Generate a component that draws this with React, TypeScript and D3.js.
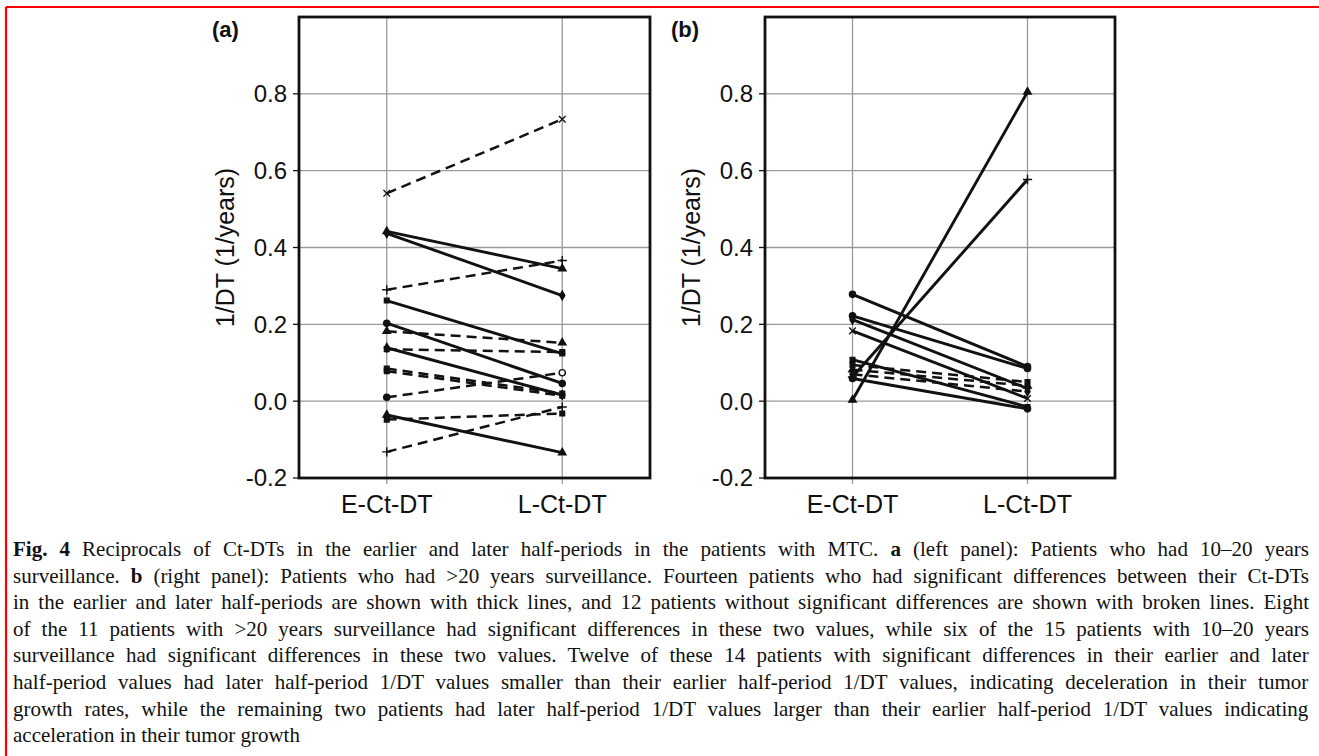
import React, { useMemo } from "react";
import * as d3 from "d3";

const W = 1319;
const H = 756;

const CATEGORIES = ["E-Ct-DT", "L-Ct-DT"];
const Y_TICKS = [-0.2, 0.0, 0.2, 0.4, 0.6, 0.8];
const Y_DOMAIN: [number, number] = [-0.2, 1.0];

// (a) patients with 10–20 years surveillance
const A_EARLY = [0.541, 0.442, 0.437, 0.29, 0.262, 0.203, 0.182, 0.139, 0.135, 0.085, 0.078, 0.01, -0.036, -0.048, -0.132];
const A_LATE = [0.734, 0.345, 0.275, 0.366, 0.124, 0.046, 0.152, 0.016, 0.128, 0.02, 0.014, 0.074, -0.134, -0.032, -0.015];
const A_SOLID = [false, true, true, false, true, true, false, true, false, false, false, false, true, false, false];
const A_MARKER = ["cross", "triangle", "diamond", "plus", "square", "circle", "triangle", "diamond", "square", "square", "square", "ring", "triangle", "square", "plus"];

// (b) patients with >20 years surveillance
const B_EARLY = [0.003, 0.063, 0.278, 0.222, 0.212, 0.183, 0.108, 0.059, 0.094, 0.082, 0.07];
const B_LATE = [0.805, 0.577, 0.09, 0.085, 0.033, 0.007, -0.015, -0.02, 0.05, 0.04, 0.025];
const B_SOLID = [true, true, true, true, true, true, true, true, false, false, false];
const B_MARKER = ["triangle", "plus", "circle", "circle", "diamond", "cross", "square", "circle", "square", "triangle", "diamond"];

type Run = { t: string; b?: boolean; gap?: number };
const CAPTION: Run[][] = [
  [{ t: "Fig. 4", b: true }, { t: "Reciprocals of Ct-DTs in the earlier and later half-periods in the patients with MTC. ", gap: 12 }, { t: "a", b: true }, { t: " (left panel): Patients who had 10–20 years" }],
  [{ t: "surveillance. " }, { t: "b", b: true }, { t: " (right panel): Patients who had >20 years surveillance. Fourteen patients who had significant differences between their Ct-DTs" }],
  [{ t: "in the earlier and later half-periods are shown with thick lines, and 12 patients without significant differences are shown with broken lines. Eight" }],
  [{ t: "of the 11 patients with >20 years surveillance had significant differences in these two values, while six of the 15 patients with 10–20 years" }],
  [{ t: "surveillance had significant differences in these two values. Twelve of these 14 patients with significant differences in their earlier and later" }],
  [{ t: "half-period values had later half-period 1/DT values smaller than their earlier half-period 1/DT values, indicating deceleration in their tumor" }],
  [{ t: "growth rates, while the remaining two patients had later half-period 1/DT values larger than their earlier half-period 1/DT values indicating" }],
  [{ t: "acceleration in their tumor growth" }],
];

const SANS = "'Liberation Sans', Arial, sans-serif";
const SERIF = "'Liberation Serif', 'Times New Roman', serif";
const CAP_SIZE = 21;
const CAP_LEFT = 13;
const CAP_RIGHT = 1309;
const CAP_TOP = 556;
const CAP_STEP = 26.6;

const FRAME_TOP = 17;
const FRAME_BOTTOM = 478;

const PANELS = [
  { label: "(a)", labelX: 212, left: 299, right: 650, early: A_EARLY, late: A_LATE, solid: A_SOLID, marker: A_MARKER },
  { label: "(b)", labelX: 671, left: 765, right: 1115, early: B_EARLY, late: B_LATE, solid: B_SOLID, marker: B_MARKER },
];

const SYMBOLS: Record<string, { type: d3.SymbolType; filled: boolean; size: number }> = {
  circle: { type: d3.symbolCircle, filled: true, size: 30 },
  ring: { type: d3.symbolCircle, filled: false, size: 30 },
  square: { type: d3.symbolSquare, filled: true, size: 22 },
  diamond: { type: d3.symbolDiamond, filled: true, size: 22 },
  triangle: { type: d3.symbolTriangle, filled: true, size: 24 },
  plus: { type: (d3 as any).symbolPlus ?? d3.symbolCross, filled: false, size: 30 },
  cross: { type: (d3 as any).symbolTimes ?? d3.symbolCross, filled: false, size: 30 },
};

let ctx: CanvasRenderingContext2D | null = null;
function measure(runs: Run[]) {
  if (!ctx) ctx = document.createElement("canvas").getContext("2d");
  let w = 0;
  let spaces = 0;
  runs.forEach((r) => {
    ctx!.font = `${r.b ? "bold " : ""}${CAP_SIZE}px "Liberation Serif"`;
    w += ctx!.measureText(r.t).width + (r.gap ?? 0);
    spaces += (r.t.match(/ /g) || []).length;
  });
  return { w, spaces };
}

const fmt = (t: number) => t.toFixed(1);

const Panel: React.FC<{ p: (typeof PANELS)[number] }> = ({ p }) => {
  const x = d3.scalePoint<string>().domain(CATEGORIES).range([p.left, p.right]).padding(0.5);
  const y = d3.scaleLinear().domain(Y_DOMAIN).range([FRAME_BOTTOM, FRAME_TOP]);
  const line = d3
    .line<[string, number]>()
    .x((d) => x(d[0]) ?? 0)
    .y((d) => y(d[1]));
  const midY = (FRAME_TOP + FRAME_BOTTOM) / 2;

  return (
    <g>
      {/* grid */}
      {Y_TICKS.filter((t) => t > Y_DOMAIN[0]).map((t) => (
        <line key={"h" + t} x1={p.left} x2={p.right} y1={y(t)} y2={y(t)} stroke="#9a9a9a" strokeWidth={1.3} />
      ))}
      {CATEGORIES.map((c) => (
        <line key={"v" + c} x1={x(c)} x2={x(c)} y1={FRAME_TOP} y2={FRAME_BOTTOM + 6} stroke="#9a9a9a" strokeWidth={1.3} />
      ))}

      {/* series */}
      {p.early.map((e, i) => (
        <path
          key={"l" + i}
          d={line([[CATEGORIES[0], e], [CATEGORIES[1], p.late[i]]]) ?? ""}
          fill="none"
          stroke="#111"
          strokeWidth={p.solid[i] ? 2.9 : 2.5}
          strokeDasharray={p.solid[i] ? undefined : "10,6"}
        />
      ))}
      {p.early.map((e, i) => {
        const s = SYMBOLS[p.marker[i]];
        const d = d3.symbol(s.type, s.size)() ?? "";
        return [e, p.late[i]].map((v, k) => (
          <path
            key={"m" + i + k}
            d={d}
            transform={`translate(${x(CATEGORIES[k])},${y(v)})`}
            fill={s.filled ? "#111" : p.marker[i] === "ring" && k === 1 ? "#fff" : p.marker[i] === "ring" ? "#111" : "none"}
            stroke="#111"
            strokeWidth={1.4}
          />
        ));
      })}

      {/* frame */}
      <rect x={p.left} y={FRAME_TOP} width={p.right - p.left} height={FRAME_BOTTOM - FRAME_TOP} fill="none" stroke="#111" strokeWidth={2.8} />

      {/* y axis */}
      {Y_TICKS.map((t) => (
        <g key={"t" + t}>
          <line x1={p.left - 6} x2={p.left} y1={y(t)} y2={y(t)} stroke="#111" strokeWidth={1.3} />
          <text x={p.left - 12} y={y(t)} dy="0.35em" textAnchor="end" fontFamily={SANS} fontSize={24} fill="#111">
            {fmt(t)}
          </text>
        </g>
      ))}
      <text
        transform={`translate(${p.left - 74},${midY}) rotate(-90)`}
        dy="0.35em"
        textAnchor="middle"
        fontFamily={SANS}
        fontSize={25}
        fill="#111"
      >
        1/DT (1/years)
      </text>

      {/* x axis labels */}
      {CATEGORIES.map((c) => (
        <text key={"c" + c} x={x(c)} y={513} textAnchor="middle" fontFamily={SANS} fontSize={25} fill="#111">
          {c}
        </text>
      ))}

      <text x={p.labelX} y={37} fontFamily={SANS} fontSize={22} fontWeight="bold" fill="#111">
        {p.label}
      </text>
    </g>
  );
};

const App: React.FC = () => {
  const spacing = useMemo(
    () =>
      CAPTION.map((runs, i) => {
        if (i === CAPTION.length - 1) return 0;
        const m = measure(runs);
        return m.spaces ? (CAP_RIGHT - CAP_LEFT - m.w) / m.spaces : 0;
      }),
    []
  );

  return (
    <svg width={W} height={H} style={{ position: "absolute", left: 0, top: 0, background: "#fff" }}>
      <rect x={0} y={0} width={W} height={H} fill="#fff" />
      <line x1={6} x2={W} y1={7} y2={7} stroke="#f00" strokeWidth={2.2} />
      <line x1={6} x2={6} y1={7} y2={H} stroke="#f00" strokeWidth={2.2} />

      {PANELS.map((p) => (
        <Panel key={p.label} p={p} />
      ))}

      {CAPTION.map((runs, i) => (
        <text
          key={"cap" + i}
          x={CAP_LEFT}
          y={CAP_TOP + i * CAP_STEP}
          fontFamily={SERIF}
          fontSize={CAP_SIZE}
          fill="#111"
          style={{ whiteSpace: "pre", wordSpacing: `${spacing[i]}px` }}
        >
          {runs.map((r, k) => (
            <tspan key={k} fontWeight={r.b ? "bold" : "normal"} dx={r.gap ?? 0}>
              {r.t}
            </tspan>
          ))}
        </text>
      ))}
    </svg>
  );
};

export default App;
